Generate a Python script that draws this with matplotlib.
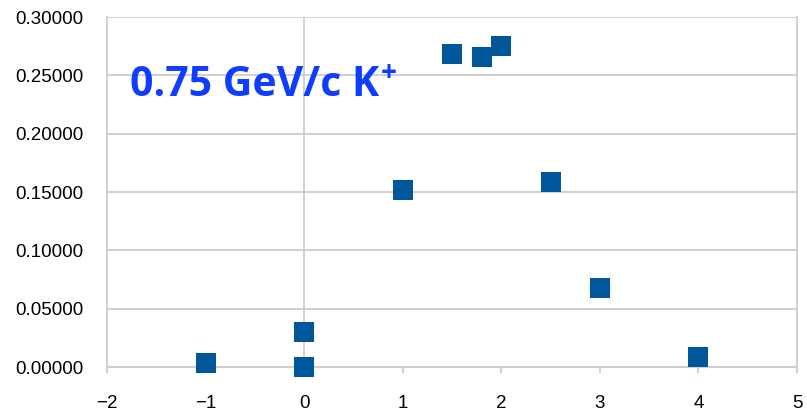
import matplotlib.pyplot as plt
from matplotlib.ticker import FormatStrFormatter, FuncFormatter

# data
x_vals = [-1.0, 0.0, 0.0, 1.0, 1.5, 1.8, 2.0, 2.5, 3.0, 4.0]
y_vals = [0.0035, 0.0000, 0.0300, 0.1515, 0.2680, 0.2660, 0.2755, 0.1585, 0.0675, 0.0085]
x_ticks = [-2, -1, 0, 1, 2, 3, 4, 5]
y_ticks = [0.0, 0.05, 0.10, 0.15, 0.20, 0.25, 0.30]
label = "0.75 GeV/c K"
label_sup = "+"

GRID = "#c8c8c8"
MARKER = "#00579b"
TEXT_BLUE = "#0f3cff"

plt.rcParams["font.family"] = ["Liberation Sans", "DejaVu Sans"]

W, H = 807, 412
fig = plt.figure(figsize=(W / 100, H / 100), dpi=100, facecolor="white")
ax = fig.add_axes([107 / W, 1 - 367 / H, 690 / W, 350 / H])

ax.set_xlim(-2, 5)
ax.set_ylim(0, 0.3)
ax.set_xticks(x_ticks)
ax.set_yticks(y_ticks)
ax.yaxis.set_major_formatter(FormatStrFormatter("%.5f"))
ax.xaxis.set_major_formatter(FuncFormatter(lambda v, p: f"{int(v)}".replace("-", "\u2212")))

ax.grid(axis="y", color=GRID, linewidth=1.2)
ax.axvline(0, color=GRID, linewidth=1.2, zorder=1)
ax.set_axisbelow(True)

for side in ["left", "right", "bottom"]:
    ax.spines[side].set_color(GRID)
    ax.spines[side].set_linewidth(1.2)
ax.spines["top"].set_visible(False)

ax.tick_params(axis="x", length=4, width=1.2, color=GRID, labelsize=13.5, pad=16, labelcolor="black")
ax.tick_params(axis="y", length=0, labelsize=13.5, pad=17, labelcolor="black")

ax.scatter(x_vals, y_vals, marker="s", s=14.5 ** 2, color=MARKER, edgecolors="none",
           zorder=3, clip_on=False)

# big blue label, pixel coordinates (origin bottom-left)
main = fig.text(130 / W, 1 - 96 / H, label, fontsize=29.5, fontweight="bold", color=TEXT_BLUE,
                family=["Open Sans", "DejaVu Sans"], va="baseline")
fig.canvas.draw()
bb = main.get_window_extent()
fig.text((bb.x1 + 2) / W, 1 - 73 / H, label_sup, fontsize=20, fontweight="bold", color=TEXT_BLUE,
         family=["Open Sans", "DejaVu Sans"], va="center")

fig.savefig("out.png", dpi=100, facecolor="white")
